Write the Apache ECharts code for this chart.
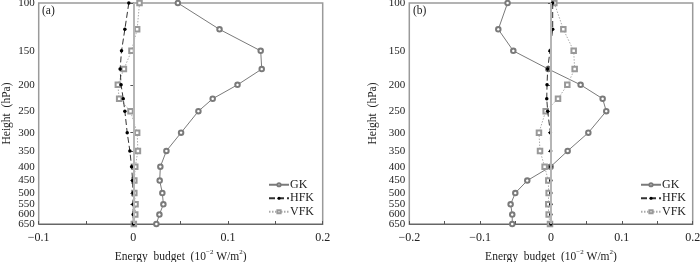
<!DOCTYPE html>
<html><head><meta charset="utf-8">
<script src="https://cdn.jsdelivr.net/npm/echarts@6/dist/echarts.min.js"></script>
<style>html,body{margin:0;padding:0;background:#fff}#c{width:700px;height:262px}</style>
</head><body><div id="c"></div>
<script>
const levels = [100,125,150,175,200,225,250,300,350,400,450,500,550,600,650];
const yTicks = [100,150,200,250,300,350,400,450,500,550,600,650];
const yTicksExtra = [600];
// panel (a)
const gkA  = [0.047,0.091,0.1345,0.1356,0.110,0.0838,0.0687,0.0504,0.0349,0.0285,0.0278,0.0306,0.0317,0.0275,0.0243];
const hfkA = [-0.0048,-0.009,-0.0125,-0.014,-0.013,-0.0107,-0.009,-0.0065,-0.0037,-0.0019,-0.0008,-0.0005,-0.0003,-0.0002,0];
const vfkA = [0.0065,0.004,-0.002,-0.010,-0.0164,-0.015,-0.003,0.004,0.0048,0.002,0.001,0.001,0.0023,0.002,0.0005];
// panel (b)
const gkB  = [-0.0613,-0.0744,-0.0532,-0.0038,0.0418,0.0729,0.078,0.0527,0.0235,-0.0005,-0.0335,-0.0504,-0.057,-0.0547,-0.0547];
const hfkB = [0.0024,0.0024,-0.0014,-0.0047,-0.0056,-0.006,-0.0047,-0.0009,-0.0005,-0.0004,-0.0003,-0.0003,-0.0003,-0.0003,-0.0003];
const vfkB = [0.0047,0.0174,0.032,0.0334,0.023,0.0099,-0.0075,-0.017,-0.0155,-0.009,-0.0038,-0.0033,-0.0038,-0.0033,-0.0014];

const FONT = '"Liberation Serif","DejaVu Serif",serif';
const TXT = '#222';
function pairs(xs){ return xs.map((v,i)=>[v, levels[i]]); }
function fmtX(v){
  const k = Math.round(v*20);
  if (k % 2 !== 0) return '';
  if (k === 0) return '0';
  const s = (Math.abs(v)).toFixed(1);
  return (v<0 ? '\u2212' : '') + s;
}
function xAxis(idx, min, max){
  return {
    type:'value', gridIndex: idx, min, max, interval: 0.05,
    axisLine:{show:true, lineStyle:{color:'#666', width:1}},
    axisTick:{show:true, inside:true, length:3, lineStyle:{color:'#555'}},
    axisLabel:{formatter: fmtX, color: TXT, fontFamily: FONT, fontSize: 12, margin: 8, showMinLabel:true, showMaxLabel:true},
    splitLine:{show:false},
    name:'{a|Energy  budget  (10}{s|\u22122}{a| W/m}{s|2}{a|)}',
    nameLocation:'middle', nameGap: 23,
    nameTextStyle:{fontFamily: FONT, color: TXT, rich:{
      a:{fontFamily: FONT, fontSize: 11.5, color: TXT, verticalAlign:'bottom', lineHeight: 14},
      s:{fontFamily: FONT, fontSize: 7, color: TXT, verticalAlign:'top', lineHeight: 14}
    }}
  };
}
function yAxis(idx, gap){
  return {
    type:'log', logBase: 10, gridIndex: idx, min: 100, max: 650, inverse: true,
    axisLine:{show:true, lineStyle:{color:'#777', width:1}},
    axisTick:{show:true, inside:false, length:3, customValues: yTicks, lineStyle:{color:'#555'}},
    axisLabel:{customValues: yTicks, color: TXT, fontFamily: FONT, fontSize: 11, lineHeight: 8, margin: 4, showMinLabel:true, showMaxLabel:true, hideOverlap:false},
    splitLine:{show:false}, minorTick:{show:false},
    name:'Height  (hPa)', nameLocation:'middle', nameRotate: 90, nameGap: gap,
    nameTextStyle:{fontFamily: FONT, fontSize: 11.5, color: TXT}
  };
}
// secondary label-only axis so the tightly packed 600 label is not auto-hidden
function yAxisExtra(idx){
  return {
    type:'log', logBase: 10, gridIndex: idx, min: 100, max: 650, inverse: true, position:'left',
    axisLine:{show:false}, axisTick:{show:false}, splitLine:{show:false}, minorTick:{show:false},
    axisLabel:{customValues: yTicksExtra, color: TXT, fontFamily: FONT, fontSize: 11, lineHeight: 8, margin: 4, showMinLabel:false, showMaxLabel:false}
  };
}
function series(idx, gk, hfk, vfk){
  return [
    {name:'GK', type:'line', xAxisIndex: idx, yAxisIndex: idx, data: pairs(gk),
     symbol:'emptyCircle', symbolSize: 4.5, lineStyle:{color:'#7a7a7a', width:1}, itemStyle:{color:'#7a7a7a', borderWidth:0.7},
     markLine:{silent:true, symbol:'none', label:{show:false}, lineStyle:{color:'#b5b5b5', width:2, type:'solid'}, data:[{xAxis:0}]},
     z: 3},
    {name:'HFK', type:'line', xAxisIndex: idx, yAxisIndex: idx, data: pairs(hfk),
     symbol:'circle', symbolSize: 3.5, lineStyle:{color:'#333', width:1, type:[6,3]}, itemStyle:{color:'#000'}, z: 4},
    {name:'VFK', type:'line', xAxisIndex: idx, yAxisIndex: idx, data: pairs(vfk),
     symbol:'emptyRect', symbolSize: 4.5, lineStyle:{color:'#aaa', width:1, type:[1.5,1.5]}, itemStyle:{color:'#999', borderWidth:0.7}, z: 3}
  ];
}
function legend(left){
  return {
    data:['GK','HFK','VFK'], orient:'vertical', left, top: 173,
    itemWidth: 20, itemHeight: 4, itemGap: 0,
    textStyle:{fontFamily: FONT, fontSize: 12, color: TXT, lineHeight: 13.5, padding:[0,0,0,-4]},
    selectedMode:false
  };
}
const chart = echarts.init(document.getElementById('c'), null, {renderer:'canvas'});
const gridStyle = {show:true, borderColor:'#9a9a9a', borderWidth:1.5, backgroundColor:'transparent', containLabel:false, outerBoundsMode:'none'};
chart.setOption({
  animation:false,
  backgroundColor:'#fff',
  grid:[
    Object.assign({left:38.7, top:3, width:284, height:221}, gridStyle),
    Object.assign({left:409.3, top:3, width:283.4, height:221}, gridStyle)
  ],
  xAxis:[xAxis(0,-0.1,0.2), xAxis(1,-0.2,0.2)],
  yAxis:[yAxis(0,26), yAxis(1,30), yAxisExtra(0), yAxisExtra(1)],
  legend:[legend(263), legend(635)],
  graphic:[
    {type:'text', left: 42, top: 5, style:{text:'(a)', font:'11.5px '+FONT, fill: TXT}},
    {type:'text', left: 413, top: 5, style:{text:'(b)', font:'11.5px '+FONT, fill: TXT}}
  ],
  series:[...series(0,gkA,hfkA,vfkA), ...series(1,gkB,hfkB,vfkB)]
});
</script></body></html>
